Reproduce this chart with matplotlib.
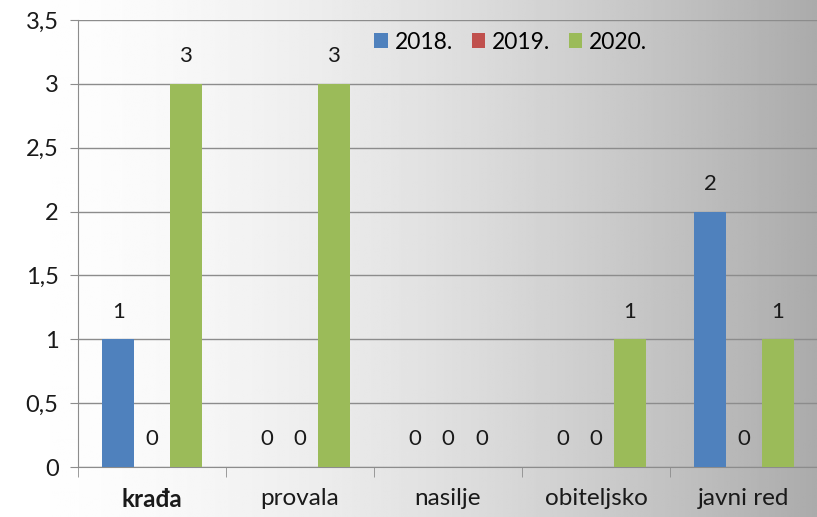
import matplotlib.pyplot as plt
import numpy as np

plt.rcParams['font.family'] = ['Lato', 'DejaVu Sans']

# podaci
categories = ['krađa', 'provala', 'nasilje', 'obiteljsko', 'javni red']
years = ['2018.', '2019.', '2020.']
v2018 = [1, 0, 0, 0, 2]
v2019 = [0, 0, 0, 0, 0]
v2020 = [3, 3, 0, 1, 1]
colors = ['#4f81bd', '#c0504d', '#9bbb59']

fig = plt.figure(figsize=(8.17, 5.17), dpi=100)

# pozadina s gradijentom (bijelo -> sivo)
bg = fig.add_axes([0, 0, 1, 1], zorder=-10)
t = np.linspace(0, 1, 400)
g = 1 - 0.33 * t ** 1.6
bg.imshow(np.tile(g, (10, 1)), cmap='gray', vmin=0, vmax=1, aspect='auto', extent=[0, 1, 0, 1])
bg.axis('off')

ax = fig.add_axes([78 / 817, 50 / 517, 740 / 817, 447 / 517])
ax.patch.set_alpha(0)

x = np.arange(len(categories))
w = 0.216
step = 0.227
for i, (vals, lab, c) in enumerate(zip([v2018, v2019, v2020], years, colors)):
    pos = x + (i - 1) * step
    ax.bar(pos, vals, width=w, color=c, label=lab, zorder=3)
    for p, v in zip(pos, vals):
        ax.annotate(str(v), (p, v), xytext=(0, 20), textcoords='offset points',
                    ha='center', va='center', fontsize=16, color='#1a1a1a')

ax.set_xlim(-0.5, len(categories) - 0.5)
ax.set_ylim(0, 3.5)
yt = np.arange(0, 3.51, 0.5)
ax.set_yticks(yt)
ax.set_yticklabels([('%g' % v).replace('.', ',') for v in yt], fontsize=17, color='#1a1a1a')
ax.yaxis.grid(True, color='#8c8c8c', linewidth=1, zorder=0)

ax.set_xticks(x)
ax.set_xticklabels(categories, fontsize=17.5, color='#1a1a1a')
ax.get_xticklabels()[0].set_fontweight('bold')
ax.tick_params(axis='x', length=0, pad=15)
ax.set_xticks(np.arange(-0.5, len(categories)), minor=True)
ax.tick_params(axis='x', which='minor', length=7, color='#8c8c8c')
ax.tick_params(axis='y', length=6, color='#8c8c8c', pad=8)

for s in ['top', 'right']:
    ax.spines[s].set_visible(False)
ax.spines['left'].set_color('#8c8c8c')
ax.spines['bottom'].set_color('#8c8c8c')

ax.legend(loc='upper center', bbox_to_anchor=(0.585, 1.02), ncol=3, frameon=False,
          fontsize=16.5, handlelength=0.6, handleheight=0.6, handletextpad=0.3, columnspacing=0.8)

fig.savefig('out.png', dpi=100)
